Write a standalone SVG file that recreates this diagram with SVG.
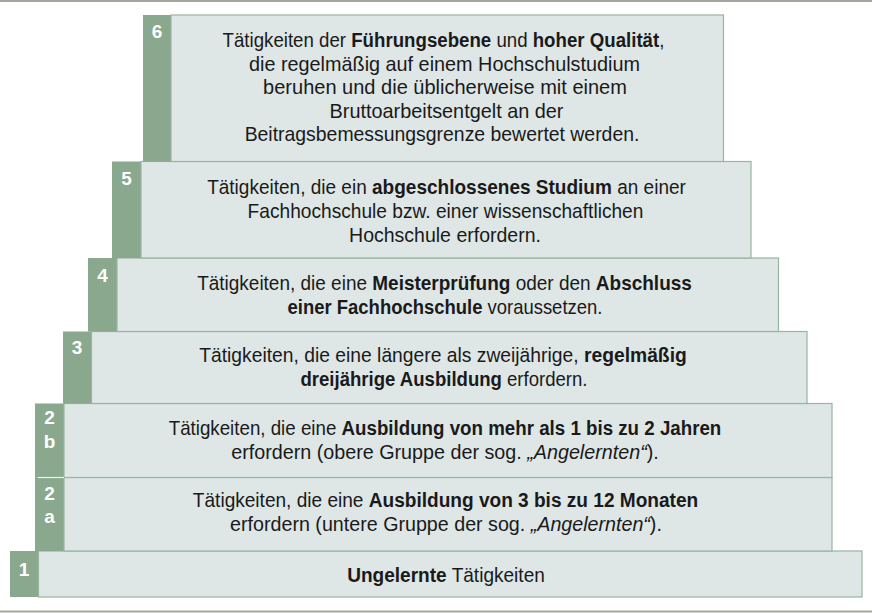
<svg xmlns="http://www.w3.org/2000/svg" width="872" height="613" viewBox="0 0 872 613">
<style>
.g{fill:#8aa88d;}
.b{fill:#dee6e6;stroke:#98b59e;stroke-width:1.2;}
.n{fill:#ffffff;font-family:"Liberation Sans",Arial,sans-serif;font-size:19px;font-weight:bold;text-anchor:middle;}
.t{fill:#1a1a1a;font-family:"Liberation Sans",Arial,sans-serif;font-size:20.5px;text-anchor:middle;}
.bd{font-weight:bold;}
.it{font-style:italic;}
.rule{stroke:#a6a6a0;stroke-width:2;}
</style>
<rect width="872" height="613" fill="#ffffff"/>
<line class="rule" x1="0" y1="1" x2="872" y2="1"/>
<line class="rule" x1="0" y1="611.5" x2="872" y2="611.5"/>

<g id="level-1">
<rect class="g" x="10" y="551" width="28.5" height="46"/>
<rect class="b" x="38.5" y="551" width="823.5" height="46"/>
<text class="n" x="24" y="575.5">1</text>
<text class="t" transform="translate(446,582) scale(0.93,1)"><tspan class="bd">Ungelernte</tspan> Tätigkeiten</text>
</g>

<g id="level-2a">
<rect class="g" x="35" y="477.5" width="29" height="73.5"/>
<rect class="b" x="64" y="477.5" width="768" height="73.5"/>
<text class="n" x="49.5" y="500">2</text>
<text class="n" x="49.5" y="523">a</text>
<text class="t" transform="translate(445.5,507) scale(0.931,1)">Tätigkeiten, die eine <tspan class="bd">Ausbildung von 3 bis zu 12 Monaten</tspan></text>
<text class="t" transform="translate(446,531) scale(0.96,1)">erfordern (untere Gruppe der sog. <tspan class="it">„Angelernten“</tspan>).</text>
</g>

<g id="level-2b">
<rect class="g" x="35" y="403.5" width="29" height="74"/>
<rect class="b" x="64" y="403.5" width="768" height="74"/>
<line x1="38" y1="477.5" x2="64" y2="477.5" stroke="#eef2ef" stroke-width="1.2"/>
<text class="n" x="49.5" y="424">2</text>
<text class="n" x="49.5" y="448">b</text>
<text class="t" transform="translate(445,435) scale(0.914,1)">Tätigkeiten, die eine <tspan class="bd">Ausbildung von mehr als 1 bis zu 2 Jahren</tspan></text>
<text class="t" transform="translate(445,459) scale(0.963,1)">erfordern (obere Gruppe der sog. <tspan class="it">„Angelernten“</tspan>).</text>
</g>

<g id="level-3">
<rect class="g" x="63" y="331.5" width="28.5" height="72"/>
<rect class="b" x="91.5" y="331.5" width="715.5" height="72"/>
<text class="n" x="77" y="354">3</text>
<text class="t" transform="translate(443,362) scale(0.941,1)">Tätigkeiten, die eine längere als zweijährige, <tspan class="bd">regelmäßig</tspan></text>
<text class="t" transform="translate(444,386) scale(0.906,1)"><tspan class="bd">dreijährige Ausbildung</tspan> erfordern.</text>
</g>

<g id="level-4">
<rect class="g" x="88" y="258" width="29" height="73.5"/>
<rect class="b" x="117" y="258" width="661.5" height="73.5"/>
<text class="n" x="102.5" y="282">4</text>
<text class="t" transform="translate(444.5,290) scale(0.926,1)">Tätigkeiten, die eine <tspan class="bd">Meisterprüfung</tspan> oder den <tspan class="bd">Abschluss</tspan></text>
<text class="t" transform="translate(445,314) scale(0.9,1)"><tspan class="bd">einer Fachhochschule</tspan> voraussetzen.</text>
</g>

<g id="level-5">
<rect class="g" x="112" y="161.5" width="29" height="96.5"/>
<rect class="b" x="141" y="161.5" width="610" height="96.5"/>
<text class="n" x="126.5" y="184.5">5</text>
<text class="t" transform="translate(446.5,194) scale(0.928,1)">Tätigkeiten, die ein <tspan class="bd">abgeschlossenes Studium</tspan> an einer</text>
<text class="t" transform="translate(445.5,218) scale(0.934,1)">Fachhochschule bzw. einer wissenschaftlichen</text>
<text class="t" transform="translate(445,242) scale(0.952,1)">Hochschule erfordern.</text>
</g>

<g id="level-6">
<rect class="g" x="143" y="15" width="28" height="146.5"/>
<rect class="b" x="171" y="15" width="552.5" height="146.5"/>
<text class="n" x="157" y="37.5">6</text>
<text class="t" transform="translate(443.5,47) scale(0.911,1)">Tätigkeiten der <tspan class="bd">Führungsebene</tspan> und <tspan class="bd">hoher Qualität</tspan>,</text>
<text class="t" transform="translate(444.5,70.5) scale(0.967,1)">die regelmäßig auf einem Hochschulstudium</text>
<text class="t" transform="translate(445,94) scale(0.977,1)">beruhen und die üblicherweise mit einem</text>
<text class="t" transform="translate(446.5,117.5) scale(0.969,1)">Bruttoarbeitsentgelt an der</text>
<text class="t" transform="translate(442,141) scale(0.947,1)">Beitragsbemessungsgrenze bewertet werden.</text>
</g>

<g id="connectors"></g>
</svg>
